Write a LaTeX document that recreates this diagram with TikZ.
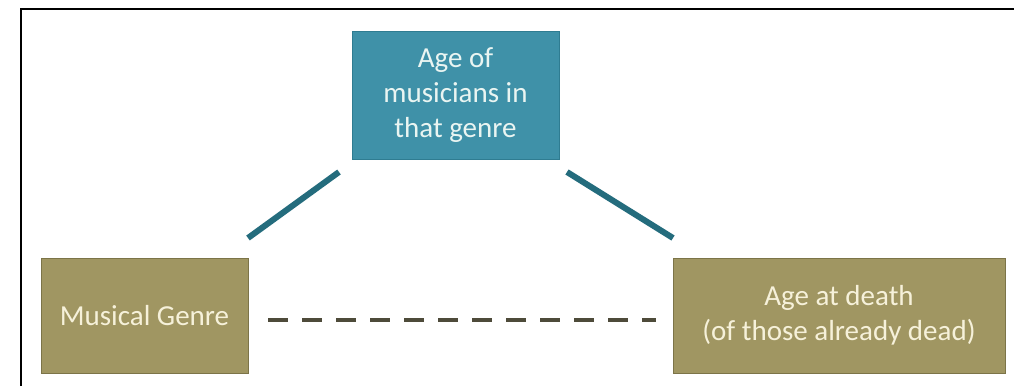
\documentclass[tikz,border=0pt]{standalone}
\usepackage{fontspec}
\setmainfont{Carlito}
\begin{document}
\begin{tikzpicture}[x=1pt,y=-1pt,
	tealbox/.style={draw=tealedge,fill=tealfill,text=tealtext,line width=0.8pt,align=center,inner sep=0pt,font=\fontsize{29}{35}\selectfont},
	olivebox/.style={draw=oliveedge,fill=olivefill,text=olivetext,line width=0.8pt,align=center,inner sep=0pt,font=\fontsize{29}{35}\selectfont},
	link/.style={draw=linkteal,line width=6pt},
	unknown/.style={draw=dashdark,line width=4pt,dash pattern=on 20pt off 14pt}]
	\definecolor{tealfill}{HTML}{3F91A8}
	\definecolor{tealedge}{HTML}{2F7C91}
	\definecolor{tealtext}{HTML}{EAF5F2}
	\definecolor{olivefill}{HTML}{A09662}
	\definecolor{oliveedge}{HTML}{7C7448}
	\definecolor{olivetext}{HTML}{F6F1DA}
	\definecolor{linkteal}{HTML}{246C7D}
	\definecolor{dashdark}{HTML}{4E4B3A}
				\useasboundingbox (0,0) rectangle (1014,386);
				\fill[white] (0,0) rectangle (1014,386);
				\draw[line width=2pt] (21,386)--(21,9)--(1014,9);
				\node[tealbox,minimum width=207pt,minimum height=128pt] (age) at (455.5,95) {Age of\\musicians in\\that genre};
				\node[olivebox,minimum width=207pt,minimum height=115pt] (genre) at (144.5,315.5) {Musical Genre};
				\node[olivebox,minimum width=332pt,minimum height=115pt] (death) at (839,315.5) {Age at death\\(of those already dead)};
				\coordinate (gl) at (248,238);
				\coordinate (al) at (339,172);
				\coordinate (ar) at (567,172);
				\coordinate (dr) at (673,238);
				\coordinate (gd) at (268,320);
				\coordinate (dd) at (656,320);
				\draw[link] (gl)--(al);
				\draw[link] (ar)--(dr);
				\draw[unknown] (gd)--(dd);
	\end{tikzpicture}
\end{document}
